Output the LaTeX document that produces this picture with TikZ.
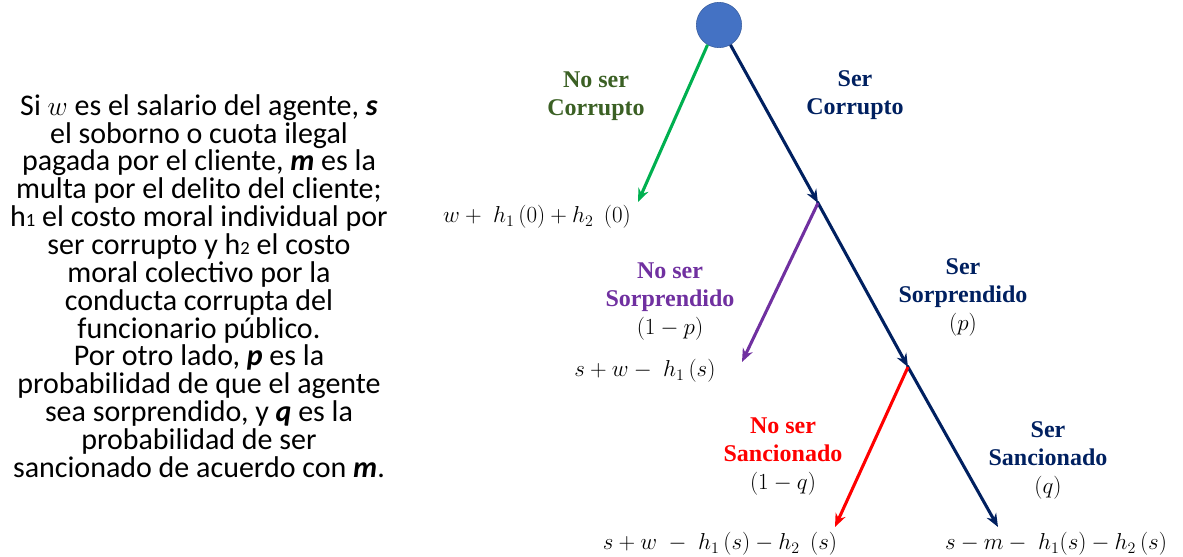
\documentclass[tikz,border=0pt]{standalone}
\usepackage{amsmath}
\usepackage{fontspec}
\setmainfont{Liberation Serif}
\newfontfamily\calibfont{Carlito}
\usetikzlibrary{arrows.meta}
\definecolor{navyarb}{HTML}{002060}
\definecolor{verdearb}{HTML}{00B050}
\definecolor{verdetxt}{HTML}{3B6024}
\definecolor{moradoarb}{HTML}{7030A0}
\definecolor{rojoarb}{HTML}{FF0000}
\definecolor{azulnodo}{HTML}{4472C4}
\tikzset{
  rama/.style={line width=2.3pt, -{Stealth[length=10pt,width=8pt]}},
  accion/.style={font=\fontsize{18}{21}\selectfont\bfseries, align=center},
  pago/.style={font=\fontsize{18.5}{21}\selectfont},
}
\newcommand{\prob}[1]{\textcolor{black}{\mdseries$#1$}}
\newcommand{\subdig}[1]{{\fontsize{14}{14}\selectfont #1}}

\begin{document}
\begin{tikzpicture}[x=0.75pt, y=-0.75pt]
  \useasboundingbox (0,0) rectangle (1183,557);

  % ---- Texto explicativo ----
  \node[font=\calibfont\fontsize{22.5}{20.9}\selectfont, align=center] (texto) at (199, 286)
    {Si $w$ es el salario del agente, \textbf{\textit{s}}\\
     el soborno o cuota ilegal\\
     pagada por el cliente, \textbf{\textit{m}} es la\\
     multa por el delito del cliente;\\
     h\subdig{1} el costo moral individual por\\
     ser corrupto y h\subdig{2} el costo\\
     moral colectivo por la\\
     conducta corrupta del\\
     funcionario público.\\
     Por otro lado, \textbf{\textit{p}} es la\\
     probabilidad de que el agente\\
     sea sorprendido, y \textbf{\textit{q}} es la\\
     probabilidad de ser\\
     sancionado de acuerdo con \textbf{\textit{m}}.};

  % ---- Nodos del arbol ----
  \node[circle, fill=azulnodo, draw=azulnodo!80!black, line width=0.4pt,
        minimum size=34pt, inner sep=0pt] (raiz) at (719, 25) {};
  \coordinate (corrupto) at (818, 203);
  \coordinate (sorprendido) at (908, 367);
  \coordinate (sancionado) at (998, 527);
  \coordinate (nocorrupto) at (638, 202);
  \coordinate (nosorprendido) at (742, 362);
  \coordinate (nosancionado) at (835, 527);

  % ---- Ramas ----
  \draw[rama, verdearb] (raiz.240) -- (nocorrupto);
  \draw[rama, navyarb] (raiz.300) -- (corrupto);
  \draw[rama, navyarb, shorten <=-1pt] (corrupto) -- (sorprendido);
  \draw[rama, navyarb, shorten <=-1pt] (sorprendido) -- (sancionado);
  \draw[rama, moradoarb] (corrupto) -- (nosorprendido);
  \draw[rama, rojoarb] (sorprendido) -- (nosancionado);

  % ---- Etiquetas de acciones ----
  \node[accion, text=verdetxt] (lnocorr) at (596, 96) {No ser\\Corrupto};
  \node[accion, text=navyarb] (lcorr) at (855, 95) {Ser\\Corrupto};
  \node[accion, text=moradoarb] (lnosorp) at (670, 302) {No ser\\Sorprendido\\\prob{(1-p)}};
  \node[accion, text=navyarb] (lsorp) at (963, 297) {Ser\\Sorprendido\\\prob{(p)}};
  \node[accion, text=rojoarb] (lnosanc) at (783, 457) {No ser\\Sancionado\\\prob{(1-q)}};
  \node[accion, text=navyarb] (lsanc) at (1048, 460) {Ser\\Sancionado\\\prob{(q)}};

  % ---- Pagos ----
  \node[pago] (p1) at (537, 217) {$w+\;h_1\,(0)+h_2\;\,(0)$};
  \node[pago] (p2) at (645, 371) {$s+w-\;h_1\,(s)$};
  \node[pago] (p3) at (720, 544) {$s+w\;-\;h_1\,(s)-h_2\;\,(s)$};
  \node[pago] (p4) at (1056, 544) {$s-m-\;h_1(s)-h_2\,(s)$};
\end{tikzpicture}
\end{document}
